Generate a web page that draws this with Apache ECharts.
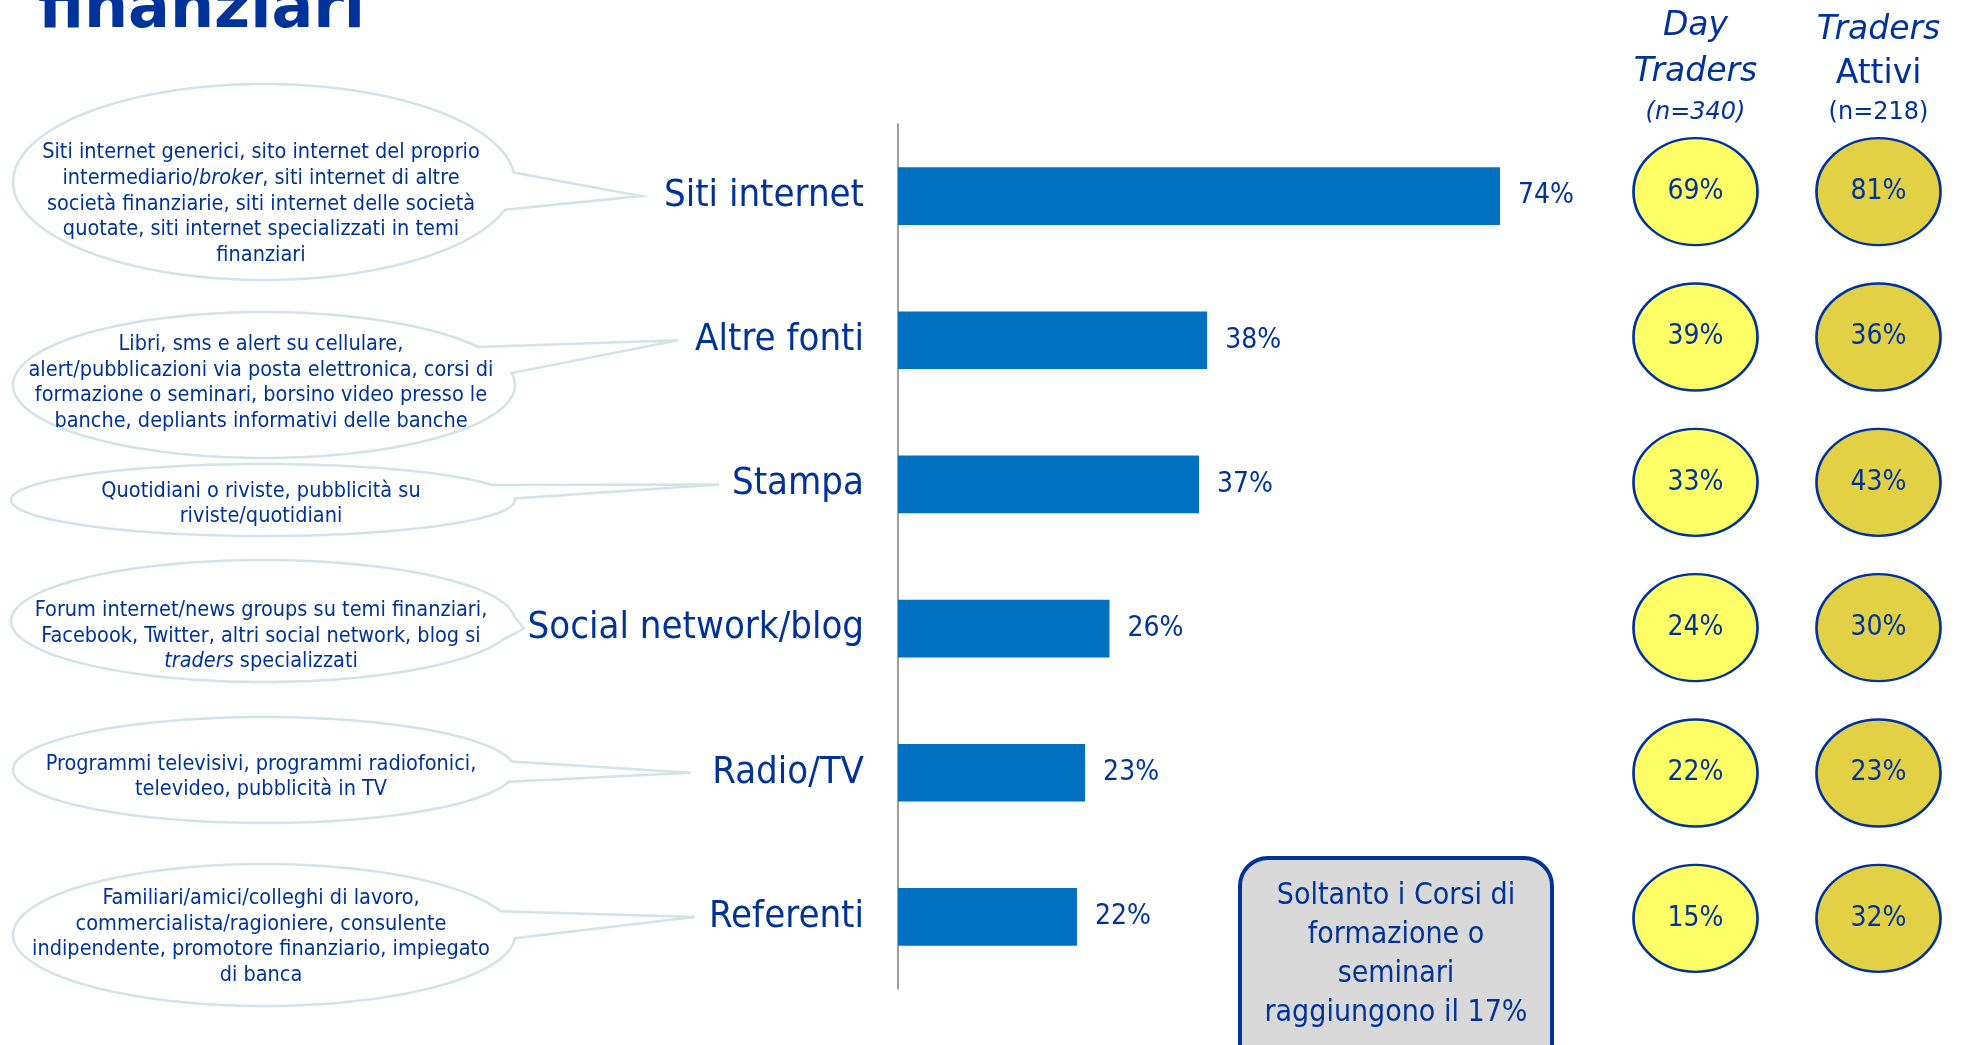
<!DOCTYPE html>
<html>
<head>
<meta charset="utf-8">
<script src="https://cdn.jsdelivr.net/npm/echarts@6/dist/echarts.min.js"></script>
<style>
html,body{margin:0;padding:0;background:#fff;}
#c{width:1970px;height:1045px;}
</style>
</head>
<body>
<div id="c"></div>
<script>
// ---- data ----
const categories = ['Siti internet', 'Altre fonti', 'Stampa', 'Social network/blog', 'Radio/TV', 'Referenti'];
const totalValues = [74, 38, 37, 26, 23, 22];
const dayTraders = [69, 39, 33, 24, 22, 15];
const tradersAttivi = [81, 36, 43, 30, 23, 32];
const groupNames = ['Day Traders', 'Traders Attivi'];
const groupHeaders = ['{i|Day}\n{i|Traders}\n{is|(n=340)}', '{i|Traders}\n{r|Attivi}\n{rs|(n=218)}'];
const descriptions = [
  'Siti internet generici, sito internet del proprio\nintermediario/{it|broker}, siti internet di altre\nsocietà finanziarie, siti internet delle società\nquotate, siti internet specializzati in temi\nfinanziari',
  'Libri, sms e alert su cellulare,\nalert/pubblicazioni via posta elettronica, corsi di\nformazione o seminari, borsino video presso le\nbanche, depliants informativi delle banche',
  'Quotidiani o riviste, pubblicità su\nriviste/quotidiani',
  'Forum internet/news groups su temi finanziari,\nFacebook, Twitter, altri social network, blog si\n{it|traders} specializzati',
  'Programmi televisivi, programmi radiofonici,\ntelevideo, pubblicità in TV',
  'Familiari/amici/colleghi di lavoro,\ncommercialista/ragioniere, consulente\nindipendente, promotore finanziario, impiegato\ndi banca'
];
const noteText = 'Soltanto i Corsi di\nformazione o\nseminari\nraggiungono il 17%';
const titleText = 'finanziari';

// ---- layout / style ----
const BLUE = '#003399';
const BAR = '#0070C0';
const COND = '"DejaVu Sans Condensed", "DejaVu Sans", sans-serif';
const SANS = '"DejaVu Sans", sans-serif';
const bubbleLayout = [
  {cx: 264, cy: 182, rx: 251, ry: 98, tipX: 641, textY: 204},
  {cx: 264, cy: 385, rx: 251, ry: 73, tipX: 678, textY: 383},
  {cx: 263, cy: 500, rx: 252, ry: 36, tipX: 719, textY: 504},
  {cx: 263, cy: 621, rx: 252, ry: 61, tipX: 524, textY: 636},
  {cx: 264, cy: 770, rx: 251, ry: 53, tipX: 691, textY: 777},
  {cx: 264, cy: 935, rx: 251, ry: 71, tipX: 695, textY: 937}
];

const chart = echarts.init(document.getElementById('c'), null, {renderer: 'canvas'});

function circleSeries(name, values, fill) {
  return {
    type: 'scatter', name: name, xAxisIndex: 1, yAxisIndex: 1,
    symbol: 'circle', symbolSize: [124, 107],
    data: categories.map((c, i) => [name, c, values[i]]),
    encode: {x: 0, y: 1},
    itemStyle: {color: fill, borderColor: BLUE, borderWidth: 2.5, opacity: 1},
    label: {show: true, position: 'inside', formatter: p => p.value[2] + '%',
      color: BLUE, fontFamily: COND, fontSize: 28},
    z: 3
  };
}

chart.setOption({
  animation: false,
  backgroundColor: '#fff',
  grid: [
    {left: 898, top: 124, width: 813.5, height: 865, containLabel: false},
    {left: 1604, top: 119, width: 376, height: 872, containLabel: false}
  ],
  xAxis: [
    {type: 'value', gridIndex: 0, min: 0, max: 100, show: false},
    {type: 'category', gridIndex: 1, data: groupNames, position: 'top',
      axisLine: {show: false}, axisTick: {show: false}, splitLine: {show: false},
      axisLabel: {
        margin: -12, interval: 0,
        formatter: (v, i) => groupHeaders[i],
        rich: {
          i: {fontFamily: SANS, fontStyle: 'italic', fontSize: 33, color: BLUE, lineHeight: 46},
          r: {fontFamily: SANS, fontSize: 33, color: BLUE, lineHeight: 42},
          is: {fontFamily: SANS, fontStyle: 'italic', fontSize: 24, color: BLUE, lineHeight: 36},
          rs: {fontFamily: SANS, fontSize: 24, color: BLUE, lineHeight: 36}
        }
      }}
  ],
  yAxis: [
    {type: 'category', gridIndex: 0, data: categories, inverse: true,
      axisLine: {show: true, lineStyle: {color: '#7F7F7F', width: 1.5}},
      axisTick: {show: false},
      axisLabel: {margin: 34, color: BLUE, fontFamily: COND, fontSize: 38}},
    {type: 'category', gridIndex: 1, data: categories, inverse: true, show: false}
  ],
  series: [
    {type: 'bar', xAxisIndex: 0, yAxisIndex: 0, data: totalValues, barWidth: '40%',
      itemStyle: {color: BAR},
      label: {show: true, position: 'right', distance: 18, formatter: '{c}%',
        color: BLUE, fontFamily: COND, fontSize: 28}},
    circleSeries(groupNames[0], dayTraders, '#FFFF66'),
    circleSeries(groupNames[1], tradersAttivi, '#E2D045')
  ]
});

function bubblePoints(b, tx, ty) {
  const ang = Math.atan2((ty - b.cy) / b.ry, (tx - b.cx) / b.rx);
  const d = 11 * Math.PI / 180;
  const pts = [];
  const N = 160;
  for (let k = 0; k <= N; k++) {
    const t = ang + d + (2 * Math.PI - 2 * d) * k / N;
    pts.push([b.cx + b.rx * Math.cos(t), b.cy + b.ry * Math.sin(t)]);
  }
  pts.push([tx, ty]);
  return pts;
}

const graphics = [];
graphics.push({
  type: 'text', left: 38, top: -20, z: 10,
  style: {text: titleText, fill: BLUE, font: 'bold 62px ' + SANS}
});
categories.forEach((c, i) => {
  const b = bubbleLayout[i];
  const ty = chart.convertToPixel({yAxisIndex: 0}, c);
  graphics.push({
    type: 'polygon', z: 1, silent: true,
    shape: {points: bubblePoints(b, b.tipX, ty)},
    style: {fill: '#ffffff', stroke: '#D3E4E6', lineWidth: 2.5}
  });
  graphics.push({
    type: 'text', z: 2, silent: true, x: 261, y: b.textY,
    style: {
      text: descriptions[i], align: 'center', verticalAlign: 'middle',
      fill: BLUE, fontFamily: COND, fontSize: 21.5, lineHeight: 25.8,
      rich: {it: {fill: BLUE, fontFamily: COND, fontSize: 21.5, fontStyle: 'italic', lineHeight: 25.8}}
    }
  });
});
graphics.push({
  type: 'rect', z: 2, silent: true,
  shape: {x: 1240, y: 858, width: 312, height: 230, r: 28},
  style: {fill: '#D9D9D9', stroke: BLUE, lineWidth: 4}
});
graphics.push({
  type: 'text', z: 3, silent: true, x: 1396, y: 955,
  style: {text: noteText, align: 'center', verticalAlign: 'middle',
    fill: BLUE, fontFamily: COND, fontSize: 30, lineHeight: 39}
});
chart.setOption({graphic: graphics});
</script>
</body>
</html>
